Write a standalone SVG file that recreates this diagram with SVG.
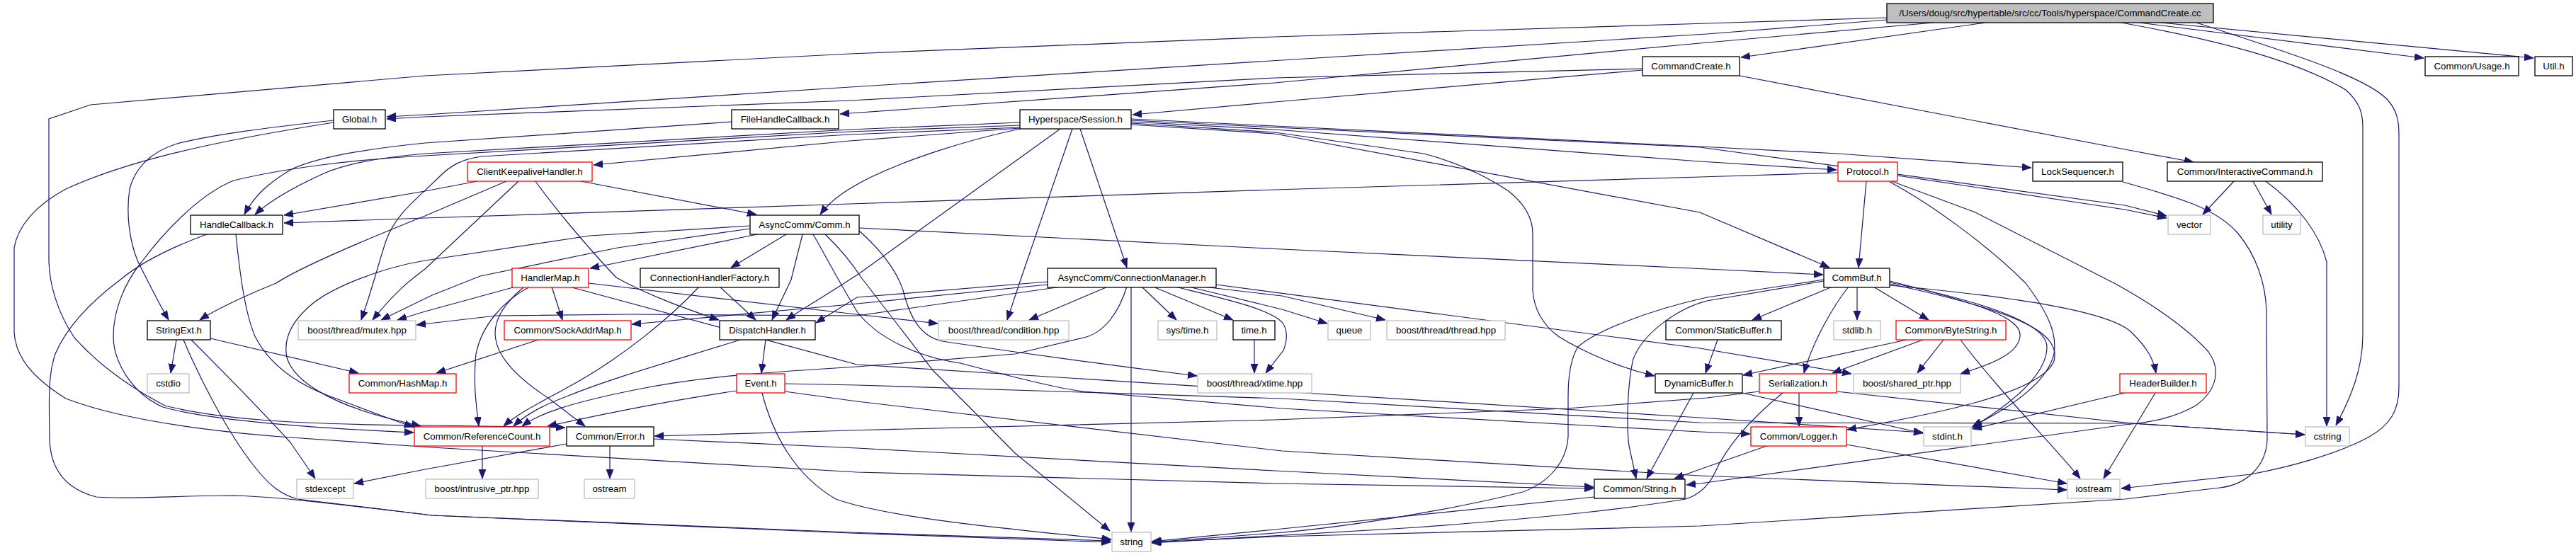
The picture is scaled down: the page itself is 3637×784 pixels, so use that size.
<svg xmlns="http://www.w3.org/2000/svg" width="3637" height="784" viewBox="0 0 3637 784">
<style>
.e{fill:none;stroke:#191970;stroke-width:1.2;marker-end:url(#a)}
.n rect{fill:#fff;stroke:#000;stroke-width:1.3}
.r rect{stroke:#f00}
.g rect{stroke:#bfbfbf}
.s rect{fill:#bfbfbf}
text{font-family:"Liberation Sans",Arial,sans-serif;font-size:13.3px;text-anchor:middle;fill:#000}
</style>
<defs>
<marker id="a" markerUnits="userSpaceOnUse" markerWidth="14" markerHeight="11" refX="13" refY="5" orient="auto"><path d="M0,0 L13,5 L0,10 z" fill="#191970" stroke="#191970" stroke-width="0.8"/></marker>
</defs>
<rect width="3637" height="784" fill="#fff"/>
<g id="edges">
<path class="e" d="M2803,32 L2458,81"/>
<path class="e" d="M3020,32 L3422,82"/>
<path class="e" d="M3050,32 L3577,82"/>
<path class="e" d="M2995,32 C3150,60 3250,90 3312,127 C3332,145 3336,160 3336,180 L3336,473 C3336,520 3320,560 3298,601"/>
<path class="e" d="M3101,32 C3250,80 3340,110 3370,140 C3384,155 3387,170 3387,190 L3387,547 C3387,580 3375,600 3345,617 C3300,642 3230,660 3178,670 L2995,690"/>
<path class="e" d="M2664,28 L2410,48 L1810,85 L1200,123 L600,162 L546,165"/>
<path class="e" d="M2319,97 L1800,110 L1200,142 L600,165 L546,168"/>
<path class="e" d="M2730,32 L2400,61 L1800,117 L1200,160 L1186,161"/>
<path class="e" d="M2664,25 L2410,33 L1800,52 L1200,76 L600,107 L128,148 L69,168 L69,370 C70,400 80,440 105,477 C130,505 170,540 233,573 C300,590 400,600 610,601 L798,604"/>
<path class="e" d="M2319,99 L1800,144 L1599,162"/>
<path class="e" d="M2456,107 L3000,211 L3097,229"/>
<path class="e" d="M1033,172 L600,202 C500,212 440,225 410,240 C380,258 360,275 345,303"/>
<path class="e" d="M1440,173 L1200,183 L600,217 C540,222 490,230 455,246 C420,262 385,280 360,303"/>
<path class="e" d="M1440,177 L1200,186 L600,220 C500,225 400,238 330,255 C280,275 230,330 200,370 C175,400 160,440 160,475 C160,510 185,555 230,575 C300,595 450,605 584,611"/>
<path class="e" d="M1440,180 L1200,190 L680,221 C650,225 635,235 620,250 C590,280 560,300 545,340 C535,370 525,410 510,452"/>
<path class="e" d="M1440,181 L1200,199 L838,233"/>
<path class="e" d="M1440,182 C1355,200 1278,227 1230,250 C1200,265 1175,280 1158,303"/>
<path class="e" d="M1497,182 L1215,385 C1170,415 1135,435 1110,452"/>
<path class="e" d="M1514,182 L1441,395 L1422,452"/>
<path class="e" d="M1525,182 L1591,378"/>
<path class="e" d="M1597,168 L1800,178 L2400,207 L2595,217 L2868,237"/>
<path class="e" d="M1597,170 L1800,180 L2400,208 L3000,290 L3059,305"/>
<path class="e" d="M1597,172 L1800,183 L2400,228 L2593,240"/>
<path class="e" d="M1597,174 L1800,187 L2010,217 C2060,230 2100,250 2130,270 C2155,290 2164,310 2164,330 L2164,410 C2166,440 2180,460 2200,475 C2240,500 2290,520 2336,531"/>
<path class="e" d="M1597,176 L1800,189 L2400,300 L2583,378"/>
<path class="e" d="M674,256 L600,270 L401,304"/>
<path class="e" d="M715,256 L600,305 C500,345 420,380 390,400 C340,420 300,440 282,452"/>
<path class="e" d="M732,256 L600,380 C580,395 560,410 526,452"/>
<path class="e" d="M756,256 C780,290 830,350 870,392 C920,420 980,440 1015,452"/>
<path class="e" d="M820,256 L1068,303"/>
<path class="e" d="M2595,244 L2400,250 L1800,268 L1200,288 L600,308 L401,315"/>
<path class="e" d="M2635,256 L2624,378"/>
<path class="e" d="M2679,248 L3000,296 L3059,308"/>
<path class="e" d="M2668,255 L2789,300 L2985,400 C3040,430 3090,465 3118,497 C3135,520 3132,550 3100,573 C3070,590 3040,596 3000,600 L2400,683 L2381,685"/>
<path class="e" d="M2668,257 C2730,290 2810,350 2860,400 C2890,440 2905,470 2900,500 C2890,540 2840,575 2785,602"/>
<path class="e" d="M2997,257 C3080,280 3130,295 3160,330 C3185,360 3199,400 3200,440 L3201,620 C3200,660 3170,685 3134,689 L3000,705 L2400,743 L1800,758 L1627,766"/>
<path class="e" d="M3154,256 L3110,303"/>
<path class="e" d="M3181,256 L3207,303"/>
<path class="e" d="M3199,256 C3245,290 3275,330 3285,370 L3285,602"/>
<path class="e" d="M333,331 C338,380 345,440 360,475 C380,515 420,545 480,565 C520,580 550,592 584,603"/>
<path class="e" d="M292,331 C240,350 200,370 170,395 C130,425 95,460 78,500 C68,530 69,560 70,620 C71,660 90,690 136,702 C180,706 250,700 331,700 C400,702 500,715 610,728 L1200,753 L1568,766"/>
<path class="e" d="M471,170 C380,180 300,190 250,203 C210,215 190,240 183,267 C178,300 182,340 195,370 C210,400 225,430 238,452"/>
<path class="e" d="M471,173 C300,200 180,227 93,267 C50,290 25,320 20,350 L20,470 C22,500 40,530 93,563 C150,585 250,605 397,617 L610,632 L1210,667 L1800,683 L2250,690"/>
<path class="e" d="M249,480 L241,527"/>
<path class="e" d="M297,478 L506,527"/>
<path class="e" d="M270,480 C300,510 360,570 410,625 L445,676"/>
<path class="e" d="M259,480 C280,530 320,610 360,660 C380,685 395,698 420,705 C500,715 560,722 610,728 L1200,752 L1568,764"/>
<path class="e" d="M800,627 L600,663 L500,683"/>
<path class="e" d="M861,629 L861,676"/>
<path class="e" d="M923,620 L1210,633 L1800,665 L2250,688"/>
<path class="e" d="M681,629 L681,676"/>
<path class="e" d="M779,405 L794,452"/>
<path class="e" d="M748,405 C710,425 680,460 672,500 C668,540 672,570 676,602"/>
<path class="e" d="M740,405 C710,430 695,455 700,480 C705,510 740,540 775,563 L826,602"/>
<path class="e" d="M728,405 L600,440 L561,452"/>
<path class="e" d="M831,400 L1200,443 L1324,457"/>
<path class="e" d="M804,405 L1210,515 L1810,553 L2400,590 L2715,611"/>
<path class="e" d="M760,480 L616,527"/>
<path class="e" d="M987,405 C950,445 880,505 800,548 C760,570 730,585 711,602"/>
<path class="e" d="M1016,405 L1067,452"/>
<path class="e" d="M1081,480 L1075,527"/>
<path class="e" d="M1045,480 C950,510 860,535 800,560 C760,575 740,588 725,602"/>
<path class="e" d="M1040,552 C950,565 850,585 773,602"/>
<path class="e" d="M1076,555 C1090,610 1120,670 1180,705 C1250,730 1400,745 1569,762"/>
<path class="e" d="M1108,542 L1210,544 L1810,563 L2400,597 L3010,598 L3254,614"/>
<path class="e" d="M1108,553 L1210,567 L1810,637 L2400,672 L2918,692"/>
<path class="e" d="M1069,331 L833,379"/>
<path class="e" d="M1110,331 L1032,378"/>
<path class="e" d="M1133,331 L1117,395 L1090,452"/>
<path class="e" d="M1165,331 C1190,355 1205,375 1216,392 L1317,523 L1433,640 L1567,750"/>
<path class="e" d="M1213,326 C1240,350 1265,380 1275,410 C1285,450 1300,475 1330,482 C1450,500 1600,520 1690,531"/>
<path class="e" d="M1148,331 C1165,360 1180,390 1210,440 C1240,480 1300,505 1356,513 C1420,530 1500,550 1530,553 L1810,577 L2400,610 L2471,613"/>
<path class="e" d="M1213,322 L1810,352 L2410,380 L2574,388"/>
<path class="e" d="M1059,319 L833,333 L600,368 C540,378 470,405 440,430 C410,455 400,480 405,505 C415,540 470,570 545,590 L594,602"/>
<path class="e" d="M1059,323 L872,350 L678,390 L610,417 L538,452"/>
<path class="e" d="M1479,398 L1210,420 L1152,456"/>
<path class="e" d="M1479,402 L1200,430 L892,458"/>
<path class="e" d="M1499,405 L1210,446 L890,444 L700,446 L588,459"/>
<path class="e" d="M1564,405 L1453,452"/>
<path class="e" d="M1591,405 C1580,440 1560,470 1530,477 L1433,500 L1210,518 C1100,525 1000,530 900,550 C800,570 760,585 737,602"/>
<path class="e" d="M1597,405 L1597,751"/>
<path class="e" d="M1612,405 L1661,452"/>
<path class="e" d="M1628,405 L1741,452"/>
<path class="e" d="M1659,405 C1720,420 1790,435 1810,455 C1818,465 1818,480 1812,495 L1787,527"/>
<path class="e" d="M1678,405 L1810,437 L1874,457"/>
<path class="e" d="M1698,405 L1810,418 L1956,452"/>
<path class="e" d="M1717,402 L2400,492 L2614,528"/>
<path class="e" d="M1771,480 L1771,527"/>
<path class="e" d="M2587,405 L2474,452"/>
<path class="e" d="M2622,405 L2622,452"/>
<path class="e" d="M2645,405 L2723,452"/>
<path class="e" d="M2610,405 C2590,430 2560,480 2547,527"/>
<path class="e" d="M2668,397 C2800,430 2855,450 2852,475 C2850,500 2810,515 2768,528"/>
<path class="e" d="M2668,399 C2820,430 2890,460 2890,490 C2890,530 2840,570 2784,604"/>
<path class="e" d="M2668,401 C2850,440 2910,470 2900,510 C2880,560 2700,590 2608,607"/>
<path class="e" d="M2668,403 C2850,420 2980,440 3010,470 C3030,490 3040,505 3044,527"/>
<path class="e" d="M2575,395 L2410,420 C2320,440 2250,470 2228,490 C2215,510 2214,540 2214,560 L2214,617 C2212,650 2190,680 2150,695 C2050,720 1900,745 1800,753 L1626,766"/>
<path class="e" d="M2575,397 L2410,425 C2370,435 2320,470 2306,507 C2298,540 2296,600 2300,630 L2310,676"/>
<path class="e" d="M2425,480 L2408,527"/>
<path class="e" d="M2391,555 L2325,676"/>
<path class="e" d="M2460,555 L2715,612"/>
<path class="e" d="M2692,480 L2461,530"/>
<path class="e" d="M2715,480 L2587,527"/>
<path class="e" d="M2744,480 L2707,527"/>
<path class="e" d="M2768,480 C2820,550 2900,630 2937,676"/>
<path class="e" d="M2540,555 L2540,602"/>
<path class="e" d="M2517,555 C2480,585 2440,625 2420,670 C2410,690 2395,700 2380,705 C2300,718 2200,730 2000,745 L1626,767"/>
<path class="e" d="M2593,553 L3010,598 L3254,614"/>
<path class="e" d="M2484,553 L2410,562 L2212,577 L1800,593 L1200,608 L924,616"/>
<path class="e" d="M2497,629 L2400,663 L2364,676"/>
<path class="e" d="M2607,628 L2918,683"/>
<path class="e" d="M3000,555 L2785,606"/>
<path class="e" d="M3043,555 L2970,676"/>
<path class="e" d="M2251,702 L1800,748 L1626,765"/>
</g>
<g id="n_cc" class="n s"><rect x="2664" y="5" width="461" height="27"/><text x="2894.5" y="23">/Users/doug/src/hypertable/src/cc/Tools/hyperspace/CommandCreate.cc</text></g>
<g id="n_cmdh" class="n"><rect x="2319" y="80" width="137" height="27"/><text x="2387.5" y="98">CommandCreate.h</text></g>
<g id="n_usage" class="n"><rect x="3424" y="80" width="132" height="27"/><text x="3490" y="98">Common/Usage.h</text></g>
<g id="n_util" class="n"><rect x="3579" y="80" width="53" height="27"/><text x="3605.5" y="98">Util.h</text></g>
<g id="n_global" class="n"><rect x="471" y="155" width="73" height="27"/><text x="507.5" y="173">Global.h</text></g>
<g id="n_fhc" class="n"><rect x="1033" y="155" width="151" height="27"/><text x="1108.5" y="173">FileHandleCallback.h</text></g>
<g id="n_session" class="n"><rect x="1440" y="155" width="157" height="27"/><text x="1518.5" y="173">Hyperspace/Session.h</text></g>
<g id="n_ckh" class="n r"><rect x="660" y="229" width="176" height="27"/><text x="748" y="247">ClientKeepaliveHandler.h</text></g>
<g id="n_protocol" class="n r"><rect x="2595" y="229" width="84" height="27"/><text x="2637" y="247">Protocol.h</text></g>
<g id="n_lockseq" class="n"><rect x="2870" y="229" width="127" height="27"/><text x="2933.5" y="247">LockSequencer.h</text></g>
<g id="n_icmd" class="n"><rect x="3060" y="229" width="219" height="27"/><text x="3169.5" y="247">Common/InteractiveCommand.h</text></g>
<g id="n_hcb" class="n"><rect x="269" y="304" width="130" height="27"/><text x="334" y="322">HandleCallback.h</text></g>
<g id="n_comm" class="n"><rect x="1059" y="304" width="154" height="27"/><text x="1136" y="322">AsyncComm/Comm.h</text></g>
<g id="n_vector" class="n g"><rect x="3061" y="304" width="60" height="27"/><text x="3091" y="322">vector</text></g>
<g id="n_utility" class="n g"><rect x="3195" y="304" width="53" height="27"/><text x="3221.5" y="322">utility</text></g>
<g id="n_handlermap" class="n r"><rect x="723" y="379" width="108" height="27"/><text x="777" y="397">HandlerMap.h</text></g>
<g id="n_chf" class="n"><rect x="904" y="379" width="196" height="27"/><text x="1002" y="397">ConnectionHandlerFactory.h</text></g>
<g id="n_cm" class="n"><rect x="1479" y="379" width="238" height="27"/><text x="1598" y="397">AsyncComm/ConnectionManager.h</text></g>
<g id="n_commbuf" class="n"><rect x="2575" y="379" width="93" height="27"/><text x="2621.5" y="397">CommBuf.h</text></g>
<g id="n_stringext" class="n"><rect x="208" y="453" width="89" height="27"/><text x="252.5" y="471">StringExt.h</text></g>
<g id="n_mutex" class="n g"><rect x="421" y="453" width="166" height="27"/><text x="504" y="471">boost/thread/mutex.hpp</text></g>
<g id="n_sockaddr" class="n r"><rect x="712" y="453" width="179" height="27"/><text x="801.5" y="471">Common/SockAddrMap.h</text></g>
<g id="n_dispatch" class="n"><rect x="1016" y="453" width="135" height="27"/><text x="1083.5" y="471">DispatchHandler.h</text></g>
<g id="n_condition" class="n g"><rect x="1325" y="453" width="184" height="27"/><text x="1417" y="471">boost/thread/condition.hpp</text></g>
<g id="n_systime" class="n g"><rect x="1635" y="453" width="83" height="27"/><text x="1676.5" y="471">sys/time.h</text></g>
<g id="n_time" class="n"><rect x="1741" y="453" width="59" height="27"/><text x="1770.5" y="471">time.h</text></g>
<g id="n_queue" class="n g"><rect x="1875" y="453" width="60" height="27"/><text x="1905" y="471">queue</text></g>
<g id="n_thread" class="n g"><rect x="1958" y="453" width="167" height="27"/><text x="2041.5" y="471">boost/thread/thread.hpp</text></g>
<g id="n_staticbuf" class="n"><rect x="2352" y="453" width="163" height="27"/><text x="2433.5" y="471">Common/StaticBuffer.h</text></g>
<g id="n_stdlib" class="n g"><rect x="2589" y="453" width="66" height="27"/><text x="2622" y="471">stdlib.h</text></g>
<g id="n_bytestring" class="n r"><rect x="2677" y="453" width="155" height="27"/><text x="2754.5" y="471">Common/ByteString.h</text></g>
<g id="n_cstdio" class="n g"><rect x="208" y="528" width="59" height="27"/><text x="237.5" y="546">cstdio</text></g>
<g id="n_hashmap" class="n r"><rect x="493" y="528" width="151" height="27"/><text x="568.5" y="546">Common/HashMap.h</text></g>
<g id="n_event" class="n r"><rect x="1040" y="528" width="68" height="27"/><text x="1074" y="546">Event.h</text></g>
<g id="n_xtime" class="n g"><rect x="1691" y="528" width="161" height="27"/><text x="1771.5" y="546">boost/thread/xtime.hpp</text></g>
<g id="n_dynbuf" class="n"><rect x="2337" y="528" width="123" height="27"/><text x="2398.5" y="546">DynamicBuffer.h</text></g>
<g id="n_serial" class="n r"><rect x="2484" y="528" width="109" height="27"/><text x="2538.5" y="546">Serialization.h</text></g>
<g id="n_sharedptr" class="n g"><rect x="2617" y="528" width="151" height="27"/><text x="2692.5" y="546">boost/shared_ptr.hpp</text></g>
<g id="n_headerb" class="n r"><rect x="2993" y="528" width="122" height="27"/><text x="3054" y="546">HeaderBuilder.h</text></g>
<g id="n_refcount" class="n r"><rect x="585" y="603" width="191" height="27"/><text x="680.5" y="621">Common/ReferenceCount.h</text></g>
<g id="n_error" class="n"><rect x="800" y="603" width="123" height="27"/><text x="861.5" y="621">Common/Error.h</text></g>
<g id="n_logger" class="n r"><rect x="2472" y="603" width="135" height="27"/><text x="2539.5" y="621">Common/Logger.h</text></g>
<g id="n_stdint" class="n g"><rect x="2716" y="603" width="67" height="27"/><text x="2749.5" y="621">stdint.h</text></g>
<g id="n_cstring" class="n g"><rect x="3255" y="603" width="62" height="27"/><text x="3286" y="621">cstring</text></g>
<g id="n_stdexcept" class="n g"><rect x="419" y="677" width="80" height="27"/><text x="459" y="695">stdexcept</text></g>
<g id="n_intrusive" class="n g"><rect x="601" y="677" width="159" height="27"/><text x="680.5" y="695">boost/intrusive_ptr.hpp</text></g>
<g id="n_ostream" class="n g"><rect x="825" y="677" width="71" height="27"/><text x="860.5" y="695">ostream</text></g>
<g id="n_string_h" class="n"><rect x="2251" y="677" width="128" height="27"/><text x="2315" y="695">Common/String.h</text></g>
<g id="n_iostream" class="n g"><rect x="2919" y="677" width="74" height="27"/><text x="2956" y="695">iostream</text></g>
<g id="n_string" class="n g"><rect x="1570" y="752" width="55" height="27"/><text x="1597.5" y="770">string</text></g>
</svg>
